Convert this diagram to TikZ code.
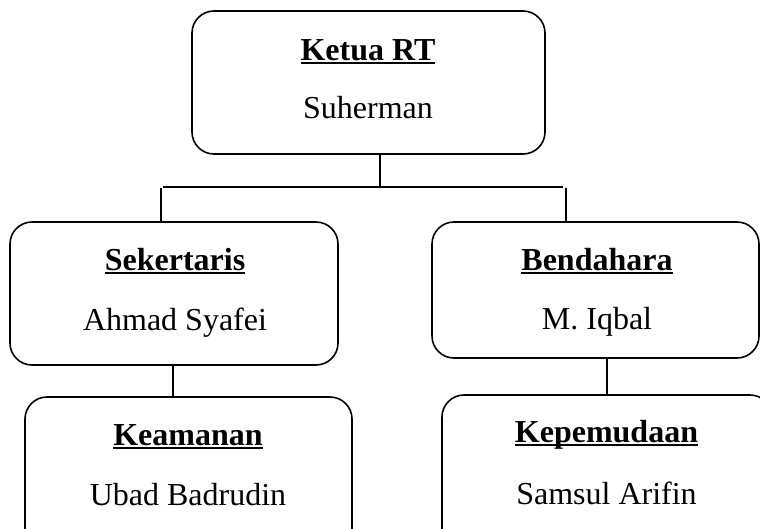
\documentclass[tikz,border=0pt]{standalone}
\usepackage{fontspec}
\setmainfont{Liberation Serif}
\newcommand\ulbox[1]{\setbox0\hbox{#1}\rlap{\rule[-3.6pt]{\wd0}{1.8pt}}\box0}
\begin{document}
\begin{tikzpicture}[x=1pt,y=-1pt,
  box/.style={draw,line width=1.6pt,rounded corners=22pt,inner sep=0pt},
  ttl/.style={anchor=base,inner sep=0pt,font=\fontsize{32}{36}\selectfont\bfseries},
  nm/.style={anchor=base,inner sep=0pt,font=\fontsize{32}{36}\selectfont},
  conn/.style={line width=1.6pt}]
\useasboundingbox (0,0) rectangle (760,528);
\begin{scope}
\clip (0,0) rectangle (760,528);
% boxes
\node[box,minimum width=353pt,minimum height=143pt] (top) at (368.5,82.5) {};
\node[box,minimum width=328pt,minimum height=143pt] (sek) at (174,293.5) {};
\node[box,minimum width=327pt,minimum height=136pt] (bend) at (595.5,290) {};
\node[box,minimum width=327pt,minimum height=160pt] (kea) at (188.5,477) {};
\node[box,minimum width=330pt,minimum height=160pt] (kep) at (607,475) {};
% texts
\node[ttl] (t1) at (368,60) {\ulbox{Ketua RT}};
\node[nm] (n1) at (368,118) {Suherman};
\node[ttl] (t2) at (175,270) {\ulbox{Sekertaris}};
\node[nm] (n2) at (175,330) {Ahmad Syafei};
\node[ttl] (t3) at (597,270) {\ulbox{Bendahara}};
\node[nm] (n3) at (597,329) {M. Iqbal};
\node[ttl] (t4) at (188,445) {\ulbox{Keamanan}};
\node[nm] (n4) at (188,505) {Ubad Badrudin};
\node[ttl] (t5) at (606.5,442) {\ulbox{Kepemudaan}};
\node[nm] (n5) at (606.5,504) {Samsul Arifin};
% connectors
\coordinate (j) at (380,187);
\coordinate (hl) at (163,187);
\coordinate (hr) at (563,187);
\coordinate (vl) at (161,188);
\coordinate (vr) at (566,188);
\draw[conn] (j |- top.south) -- (j);
\draw[conn] (hl) -- (hr);
\draw[conn] (vl) -- (vl |- sek.north);
\draw[conn] (vr) -- (vr |- bend.north);
\coordinate (c1) at (173,0);
\coordinate (c2) at (607,0);
\draw[conn] (c1 |- sek.south) -- (c1 |- kea.north);
\draw[conn] (c2 |- bend.south) -- (c2 |- kep.north);
\end{scope}
\end{tikzpicture}
\end{document}
